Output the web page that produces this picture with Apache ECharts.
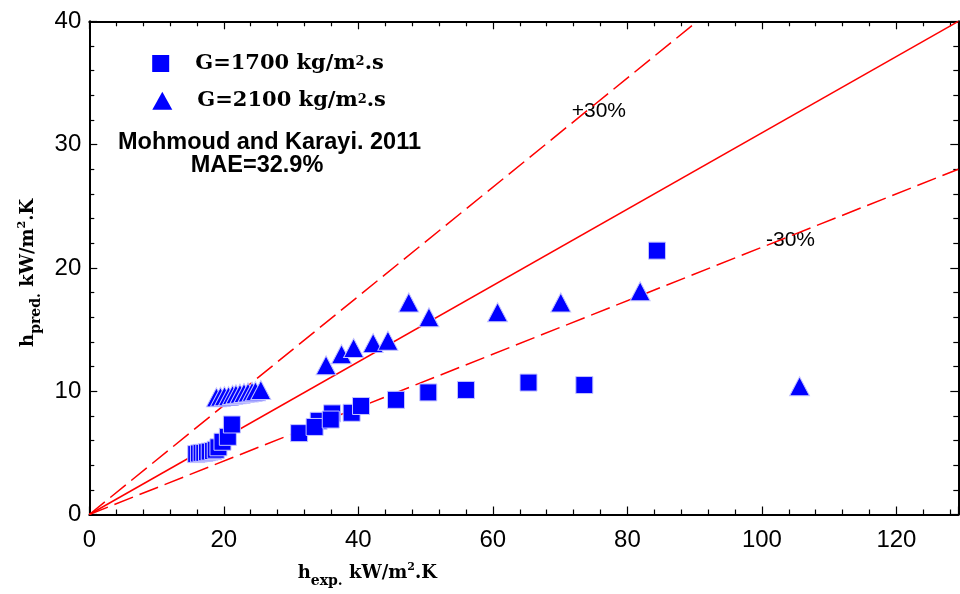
<!DOCTYPE html>
<html>
<head>
<meta charset="utf-8">
<script src="https://cdn.jsdelivr.net/npm/echarts@6/dist/echarts.min.js"></script>
<style>
  html, body { margin: 0; padding: 0; background: #ffffff; }
  #chart { width: 960px; height: 594px; }
</style>
</head>
<body>
<div id="chart"></div>
<script>
// Heat transfer coefficient: experimental vs predicted (kW/m2.K)

// G = 1700 kg/m2.s
const g1700Exp  = [15.9, 16.3, 16.7, 17.1, 17.5, 17.9, 18.4, 18.8, 19.2, 19.8, 20.6, 21.2,
                   31.2, 34.1, 33.5, 36.1, 35.9, 39.0, 40.4, 45.6, 50.4, 56.0, 65.3, 73.6, 84.4];
const g1700Pred = [4.9, 4.95, 5.0, 5.0, 5.05, 5.1, 5.15, 5.25, 5.45, 5.9, 6.3, 7.3,
                   6.6, 7.6, 7.1, 8.2, 7.7, 8.25, 8.8, 9.3, 9.9, 10.1, 10.7, 10.5, 21.4];

// G = 2100 kg/m2.s
const g2100Exp  = [18.9, 19.5, 20.1, 20.7, 21.3, 21.8, 22.4, 23.0, 23.6, 24.2, 24.7, 25.5,
                   35.2, 37.5, 39.3, 42.2, 44.4, 47.5, 50.5, 60.7, 70.1, 81.9, 105.6];
const g2100Pred = [9.5, 9.55, 9.6, 9.6, 9.7, 9.75, 9.8, 9.85, 9.9, 9.95, 10.0, 10.1,
                   12.1, 13.0, 13.5, 13.9, 14.1, 17.2, 16.0, 16.4, 17.2, 18.1, 10.4];

// Reference lines (parity and +/-30 % band)
const parityX = [0, 129.2];
const parityY = [0, 40];
const upperX  = [0, 90.4];
const upperY  = [0, 40];
const lowerX  = [0, 129.2];
const lowerY  = [0, 28];

// Axis extents and tick labels
const xMax = 129.2;
const yMax = 40;
const xTickLabels = [0, 20, 40, 60, 80, 100, 120];
const yTickLabels = [0, 10, 20, 30, 40];

const seriesNames = ['G=1700', 'G=2100'];
const legendText = {
  'G=1700': '{a|G=1700 kg/m}{s|2}{a|.s}',
  'G=2100': '{a|G=2100 kg/m}{s|2}{a|.s}'
};

const zip = (xs, ys) => xs.map((x, i) => [x, ys[i]]);

const serifBold = { fontFamily: 'DejaVu Serif', fontWeight: 'bold', color: '#000' };

const legendRich = {
  a: Object.assign({ fontSize: 21, lineHeight: 22 }, serifBold),
  s: Object.assign({ fontSize: 13, lineHeight: 22, padding: [0, 0, 3, 0] }, serifBold)
};

const titleRich = {
  b:   Object.assign({ fontSize: 18, lineHeight: 22 }, serifBold),
  sub: Object.assign({ fontSize: 14, lineHeight: 14, padding: [17, 0, 0, 0] }, serifBold),
  sup: Object.assign({ fontSize: 11, lineHeight: 12, padding: [0, 0, 12, 0] }, serifBold)
};

const tickColor = '#000';

function baseAxis(max, interval, pos, showLabels, labels) {
  return {
    type: 'value',
    position: pos,
    min: 0,
    max: max,
    interval: interval,
    axisLine: { show: true, onZero: false, lineStyle: { color: '#000', width: 2 } },
    axisTick: { show: true, inside: true, length: 8, lineStyle: { color: tickColor, width: 1.2 } },
    minorTick: { show: true, splitNumber: 5, length: 5, lineStyle: { color: tickColor, width: 1.2 } },
    splitLine: { show: false },
    minorSplitLine: { show: false },
    axisLabel: {
      show: showLabels,
      showMaxLabel: labels === xTickLabels ? false : true,
      fontFamily: 'Liberation Sans',
      fontSize: 24,
      color: '#000',
      formatter: v => (labels && labels.indexOf(v) >= 0 ? String(v) : '')
    }
  };
}

const xBottom = baseAxis(xMax, 20, 'bottom', true, xTickLabels);
xBottom.axisLabel.margin = 14;
xBottom.name = '{b|h}{sub|exp.}{b| kW/m}{sup|2}{b|.K}';
xBottom.nameLocation = 'middle';
xBottom.nameGap = 39;
xBottom.nameTextStyle = { rich: titleRich, padding: [0, 313, 0, 0] };

const xTop = baseAxis(xMax, 20, 'top', false, null);

const yLeft = baseAxis(yMax, 10, 'left', true, yTickLabels);
yLeft.axisLabel.margin = 8;
yLeft.name = '{b|h}{sub|pred.}{b| kW/m}{sup|2}{b|.K}';
yLeft.nameLocation = 'middle';
yLeft.nameRotate = 90;
yLeft.nameGap = 45;
yLeft.nameTextStyle = { rich: titleRich, padding: [0, 10, 0, 0] };

const yRight = baseAxis(yMax, 10, 'right', false, null);

const refLine = (name, xs, ys, type) => ({
  name: name,
  type: 'line',
  data: zip(xs, ys),
  showSymbol: false,
  symbol: 'none',
  silent: true,
  clip: true,
  z: 1,
  lineStyle: { color: '#ff0000', width: 1.5, type: type }
});

const markerStyle = { color: '#0000ff', opacity: 1, borderColor: '#c4c4ff', borderWidth: 1 };

const option = {
  animation: false,
  backgroundColor: '#ffffff',
  grid: { left: 89.3, top: 21.3, right: 1.7, bottom: 79.5, containLabel: false },
  xAxis: [xBottom, xTop],
  yAxis: [yLeft, yRight],
  legend: [
    {
      data: [seriesNames[0]],
      left: 147.2, top: 48,
      itemWidth: 17, itemHeight: 17,
      symbolKeepAspect: false,
      itemStyle: { borderWidth: 0, opacity: 1 },
      formatter: n => '{w|}' + legendText[n],
      textStyle: { rich: Object.assign({ w: { width: 21 } }, legendRich) },
      selectedMode: false
    },
    {
      data: [seriesNames[1]],
      left: 147.3, top: 85.3,
      itemWidth: 20, itemHeight: 18,
      symbolKeepAspect: false,
      itemStyle: { borderWidth: 0, opacity: 1 },
      formatter: n => '{w|}' + legendText[n],
      textStyle: { rich: Object.assign({ w: { width: 20 } }, legendRich) },
      selectedMode: false
    }
  ],
  graphic: [
    { type: 'text', style: { x: 571.7, y: 111.2, text: '+30%', font: '21px "Liberation Sans"', fill: '#000', align: 'left', verticalAlign: 'middle' } },
    { type: 'text', style: { x: 766, y: 240.5, text: '-30%', font: '21px "Liberation Sans"', fill: '#000', align: 'left', verticalAlign: 'middle' } },
    { type: 'text', style: { x: 118, y: 142.5, text: 'Mohmoud and Karayi. 2011', font: 'bold 23.5px "Liberation Sans"', fill: '#000', align: 'left', verticalAlign: 'middle' } },
    { type: 'text', style: { x: 190.7, y: 165.8, text: 'MAE=32.9%', font: 'bold 23.5px "Liberation Sans"', fill: '#000', align: 'left', verticalAlign: 'middle' } }
  ],
  series: [
    refLine('parity', parityX, parityY, 'solid'),
    refLine('+30%', upperX, upperY, [20, 7]),
    refLine('-30%', lowerX, lowerY, [20, 7]),
    {
      name: seriesNames[0],
      type: 'scatter',
      symbol: 'rect',
      symbolSize: 17,
      z: 3,
      itemStyle: markerStyle,
      data: zip(g1700Exp, g1700Pred)
    },
    {
      name: seriesNames[1],
      type: 'scatter',
      symbol: 'triangle',
      symbolSize: [20, 19],
      z: 3,
      itemStyle: markerStyle,
      data: zip(g2100Exp, g2100Pred)
    }
  ]
};

const chart = echarts.init(document.getElementById('chart'), null, { renderer: 'canvas' });
chart.setOption(option);
</script>
</body>
</html>
